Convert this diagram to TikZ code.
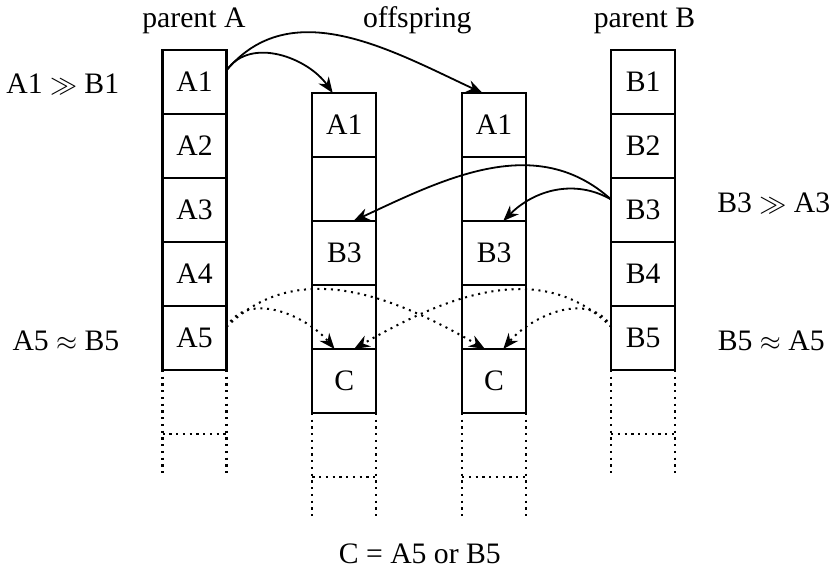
\documentclass[tikz,border=0pt]{standalone}
\usepackage{fontspec}
\setmainfont{Liberation Serif}
\usetikzlibrary{arrows.meta,positioning}
\tikzset{
  cell/.style={draw, line width=1pt, minimum size=1cm, inner sep=0pt, outer sep=0pt},
  dotline/.style={line width=1pt, dash pattern=on 1pt off 2pt},
  gene/.style={-{Stealth[length=7pt,width=5.5pt]}, line width=0.8pt},
  maybe/.style={gene, line width=0.9pt, dash pattern=on 0.9pt off 2.1pt},
  lbl/.style={anchor=base, inner sep=0pt}
}
\begin{document}
\begin{tikzpicture}[font=\fontsize{13.2}{15}\selectfont]
\useasboundingbox (0,0) rectangle (13,8.875);
% parents
\node[cell] (a1) at (3.04,7.594) {A1};
\node[cell] (b1) at (10.05,7.594) {B1};
\foreach \i in {2,...,5} {
  \pgfmathtruncatemacro\j{\i-1}
  \node[cell, below=0pt of a\j] (a\i) {A\i};
  \node[cell, below=0pt of b\j] (b\i) {B\i};
}
% offspring
\node[cell] (p1) at (5.38,6.922) {A1};
\node[cell, below=0pt of p1] (p2) {};
\node[cell, below=0pt of p2] (p3) {B3};
\node[cell, below=0pt of p3] (p4) {};
\node[cell, below=0pt of p4] (p5) {C};
\node[cell] (q1) at (7.72,6.922) {A1};
\node[cell, below=0pt of q1] (q2) {};
\node[cell, below=0pt of q2] (q3) {B3};
\node[cell, below=0pt of q3] (q4) {};
\node[cell, below=0pt of q4] (q5) {C};
% open ends
\foreach \c in {a5,b5,p5,q5} {
  \draw[dotline] (\c.south west) -- ++(0,-1.64);
  \draw[dotline] (\c.south east) -- ++(0,-1.64);
  \draw[dotline] (\c.south west) ++(0,-1) -- ++(1,0);
}
% labels
\node[lbl] (tA) at (3.03,8.44) {parent A};
\node[lbl] (tO) at (6.52,8.44) {offspring};
\node[lbl] (tB) at (10.07,8.44) {parent B};
\node[lbl] (r1) at (0.98,7.42) {A1 $\gg$ B1};
\node[lbl] (r3) at (12.09,5.547) {B3 $\gg$ A3};
\node[lbl] (r5a) at (1.03,3.406) {A5 $\approx$ B5};
\node[lbl] (r5b) at (12.05,3.406) {B5 $\approx$ A5};
\node[lbl] (rule) at (6.56,0.078) {C = A5 or B5};
% inheritance
\draw[gene] (a1.20) to[out=55,in=125] (p1.110);
\draw[gene] (a1.20) to[out=50,in=155] (q1.110);
\draw[gene] (b3.162) to[out=150,in=45] (q3.74);
\draw[gene] (b3.162) to[out=138,in=25] (p3.74);
\draw[maybe] (a5.19) to[out=60,in=130] (p5.107);
\draw[maybe] (a5.19) to[out=45,in=150] (q5.106);
\draw[maybe] (b5.161) to[out=120,in=50] (q5.74);
\draw[maybe] (b5.161) to[out=135,in=30] (p5.73);
\end{tikzpicture}
\end{document}
